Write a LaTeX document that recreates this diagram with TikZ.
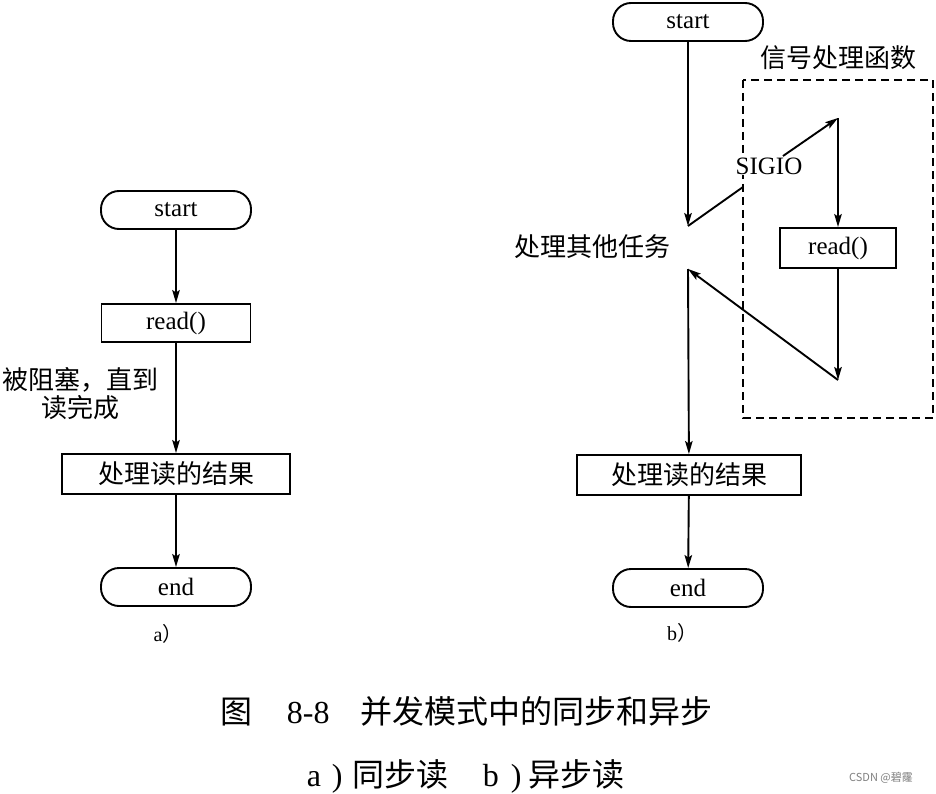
\documentclass[tikz,border=0pt]{standalone}
\usepackage{fontspec}
\setmainfont{Liberation Serif}
\newfontfamily\cjk{Noto Sans CJK SC}
\usetikzlibrary{arrows.meta}
\begin{document}
\begin{tikzpicture}[x=1pt,y=-1pt, line width=1.9pt,
  >={Stealth[length=13pt,width=7.5pt,inset=2.5pt]},
  pill/.style={draw, rounded corners=18pt, minimum width=150pt, minimum height=38pt, inner sep=0pt, font=\fontsize{25}{25}\selectfont},
  box/.style={draw, minimum height=38pt, inner sep=0pt, font=\fontsize{25}{25}\selectfont},
  cjkbox/.style={draw, minimum height=40pt, inner sep=0pt, font=\cjk\fontsize{26}{26}\selectfont},
  cjklbl/.style={inner sep=0pt, font=\cjk\fontsize{26}{28}\selectfont},
  lat/.style={inner sep=1pt, fill=white, font=\fontsize{25}{25}\selectfont},
  sub/.style={inner sep=0pt, font=\fontsize{20}{20}\selectfont},
  captext/.style={inner sep=0pt, anchor=base west, font=\fontsize{32}{32}\selectfont},
  conn/.style={->}]
\fill[white] (0,0) rectangle (936,794);
\path[use as bounding box] (0,0) rectangle (936,794);

% ---- a) ----
\node[pill] (s1) at (176,210) {start};
\node[box, minimum width=149pt] (r1) at (176,323) {read()};
\node[cjkbox, minimum width=228pt] (p1) at (176,474) {处理读的结果};
\node[pill] (e1) at (176,587) {end};
\node[cjklbl, align=center] (lbl) at (80,394) {被阻塞，直到\\读完成};
\node[sub] (ca) at (168,634) {a{\cjk ）}};
\draw[conn] (s1) -- (r1);
\draw[conn] (r1) -- (p1);
\draw[conn] (p1) -- (e1);

% ---- b) ----
\node[pill] (s2) at (688,22) {start};
\coordinate (t1) at (688,226);
\node[cjklbl] (task) at (592,247) {处理其他任务};
\coordinate (t2) at (688,269);
\coordinate (g1) at (743,187);
\coordinate (g2) at (783,156);
\coordinate (h1) at (838,118);
\node[box, minimum width=116pt, minimum height=40pt] (r2) at (838,248) {read()};
\coordinate (h2) at (838,380);
\node[cjkbox, minimum width=224pt] (p2) at (689,475) {处理读的结果};
\node[pill] (e2) at (688,588) {end};
\node[sub] (cb) at (682,633) {b{\cjk ）}};
\draw[dashed, dash pattern=on 8pt off 5pt, line width=1.4pt] (743,80) rectangle (933,418);
\node[cjklbl] (title) at (838,58) {信号处理函数};

\draw[conn] (s2) -- (t1);
\draw (t1) -- (g1);
\draw[conn] (g2) -- (h1);
\draw[conn] (h1) -- (r2);
\draw[conn] (r2) -- (h2);
\draw[conn] (h2) -- (t2);
\draw[conn] (t2) -- (p2);
\draw[conn] (p2) -- (e2);
\node[lat] (sig) at (769,166) {SIGIO};

% ---- caption ----
\node[captext] (c1) at (220,723) {\cjk 图};
\node[captext] (c2) at (286,723) {8-8};
\node[captext] (c3) at (360,723) {\cjk 并发模式中的同步和异步};
\node[captext] (c4a) at (306,786) {a};
\node[captext] (c4b) at (331,786) {)};
\node[captext] (c4c) at (352,786) {\cjk 同步读};
\node[captext] (c5a) at (482,786) {b};
\node[captext] (c5b) at (510,786) {)};
\node[captext] (c5c) at (528,786) {\cjk 异步读};
\node[inner sep=0pt, text=gray, font=\cjk\fontsize{11}{11}\selectfont] (wm) at (881,778) {CSDN @碧霳};
\end{tikzpicture}
\end{document}
